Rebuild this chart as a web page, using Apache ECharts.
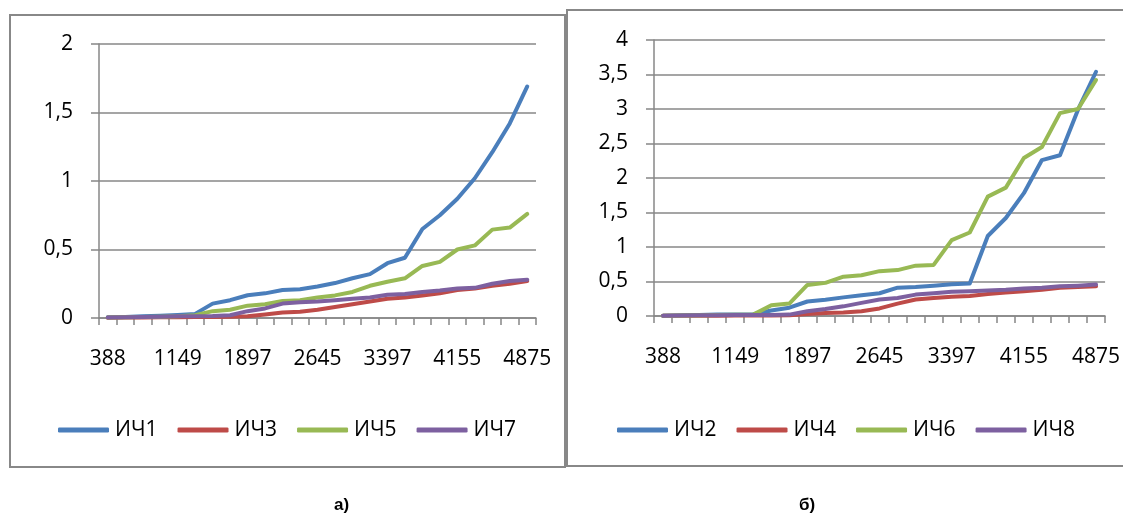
<!DOCTYPE html>
<html>
<head>
<meta charset="utf-8">
<script src="https://cdn.jsdelivr.net/npm/echarts@6/dist/echarts.min.js"></script>
<style>
html,body{margin:0;padding:0;background:#fff;}
#c{width:1123px;height:515px;}
</style>
</head>
<body>
<div id="c"></div>
<script>
var categories = ['388','578','768','958','1149','1336','1523','1710','1897','2084','2271','2458','2645','2833','3021','3209','3397','3586','3776','3965','4155','4335','4515','4695','4875'];

var ich1 = [0.005,0.008,0.012,0.016,0.022,0.03,0.105,0.13,0.166,0.18,0.205,0.21,0.23,0.255,0.29,0.32,0.40,0.44,0.65,0.75,0.87,1.02,1.21,1.42,1.69];
var ich3 = [0.002,0.003,0.004,0.005,0.006,0.007,0.008,0.009,0.012,0.025,0.04,0.045,0.06,0.08,0.10,0.12,0.14,0.15,0.165,0.18,0.205,0.215,0.235,0.25,0.27];
var ich5 = [0.003,0.005,0.008,0.01,0.013,0.02,0.05,0.06,0.09,0.10,0.125,0.13,0.15,0.165,0.19,0.235,0.265,0.29,0.38,0.41,0.50,0.53,0.645,0.66,0.76];
var ich7 = [0.003,0.005,0.008,0.01,0.012,0.013,0.014,0.02,0.05,0.07,0.105,0.115,0.12,0.13,0.14,0.15,0.17,0.175,0.19,0.20,0.215,0.22,0.25,0.27,0.28];

var ich2 = [0.005,0.01,0.015,0.02,0.022,0.025,0.08,0.12,0.21,0.235,0.27,0.30,0.33,0.41,0.42,0.44,0.46,0.47,1.16,1.42,1.78,2.26,2.33,2.99,3.54];
var ich4 = [0.002,0.003,0.004,0.005,0.006,0.007,0.008,0.01,0.03,0.045,0.05,0.07,0.11,0.18,0.24,0.26,0.28,0.29,0.32,0.34,0.36,0.38,0.41,0.42,0.43];
var ich6 = [0.004,0.008,0.012,0.015,0.018,0.02,0.155,0.18,0.45,0.48,0.57,0.59,0.65,0.665,0.73,0.74,1.10,1.21,1.73,1.86,2.29,2.45,2.94,3.0,3.42];
var ich8 = [0.004,0.006,0.01,0.012,0.014,0.015,0.016,0.02,0.07,0.10,0.14,0.19,0.24,0.26,0.31,0.33,0.35,0.36,0.37,0.38,0.40,0.41,0.43,0.44,0.455];

var namesLeft = ['ИЧ1','ИЧ3','ИЧ5','ИЧ7'];
var namesRight = ['ИЧ2','ИЧ4','ИЧ6','ИЧ8'];
var panelLabels = ['а)','б)'];
var colors = ['#4A7EBB','#BE4B48','#98B954','#7D60A0'];

var FONT = '"Open Sans", sans-serif';
var GRID_COLOR = '#878787';

function fmt(v){ return String(v).replace('.', ','); }

function xAxisCfg(gi){
  return {
    type:'category', gridIndex:gi, data:categories, boundaryGap:true,
    axisLine:{show:true, lineStyle:{color:GRID_COLOR, width:1.5}},
    axisTick:{show:true, interval:0, length:7, lineStyle:{color:GRID_COLOR, width:1.5}},
    axisLabel:{interval:3, margin:31, color:'#000', fontFamily:FONT, fontSize:21, lineHeight:21},
    splitLine:{show:false}
  };
}
function yAxisCfg(gi, max){
  return {
    type:'value', gridIndex:gi, min:0, max:max, interval:0.5,
    axisLine:{show:true, lineStyle:{color:GRID_COLOR, width:1.5}},
    axisTick:{show:true, length:8, lineStyle:{color:GRID_COLOR, width:1.5}},
    axisLabel:{margin:26, color:'#000', fontFamily:FONT, fontSize:21, formatter:fmt},
    splitLine:{show:true, lineStyle:{color:GRID_COLOR, width:1.5}}
  };
}
function line(name, data, gi, color){
  return {
    name:name, type:'line', xAxisIndex:gi, yAxisIndex:gi, data:data,
    symbol:'none', smooth:false, animation:false,
    lineStyle:{color:color, width:4, cap:'round', join:'round'},
    itemStyle:{color:color}
  };
}
function legendCfg(names, left){
  return {
    data:names, left:left, top:418, orient:'horizontal', padding:0,
    itemWidth:51, itemHeight:5, itemGap:20, icon:'roundRect',
    textStyle:{color:'#000', fontFamily:FONT, fontSize:21, lineHeight:24, padding:[0,0,0,1]},
    selectedMode:false
  };
}

var chart = echarts.init(document.getElementById('c'), null, {renderer:'canvas'});
chart.setOption({
  animation:false,
  backgroundColor:'#fff',
  graphic:[
    {type:'rect', z:-10, shape:{x:10, y:15, width:555, height:452}, style:{fill:'#fff', stroke:'#888', lineWidth:2}},
    {type:'rect', z:-9, shape:{x:567, y:10, width:570, height:456}, style:{fill:'#fff', stroke:'#888', lineWidth:2}},
    {type:'text', left:334, top:497, style:{text:panelLabels[0], font:'bold 17px "Liberation Sans", Arial, sans-serif', fill:'#000'}},
    {type:'text', left:799, top:497, style:{text:panelLabels[1], font:'bold 17px "Liberation Sans", Arial, sans-serif', fill:'#000'}}
  ],
  grid:[
    {left:99, top:44, width:437, height:274},
    {left:654, top:40, width:454, height:276}
  ],
  xAxis:[xAxisCfg(0), xAxisCfg(1)],
  yAxis:[yAxisCfg(0, 2), yAxisCfg(1, 4)],
  legend:[legendCfg(namesLeft, 58), legendCfg(namesRight, 617)],
  series:[
    line(namesLeft[0], ich1, 0, colors[0]),
    line(namesLeft[1], ich3, 0, colors[1]),
    line(namesLeft[2], ich5, 0, colors[2]),
    line(namesLeft[3], ich7, 0, colors[3]),
    line(namesRight[0], ich2, 1, colors[0]),
    line(namesRight[1], ich4, 1, colors[1]),
    line(namesRight[2], ich6, 1, colors[2]),
    line(namesRight[3], ich8, 1, colors[3])
  ]
});
</script>
</body>
</html>
